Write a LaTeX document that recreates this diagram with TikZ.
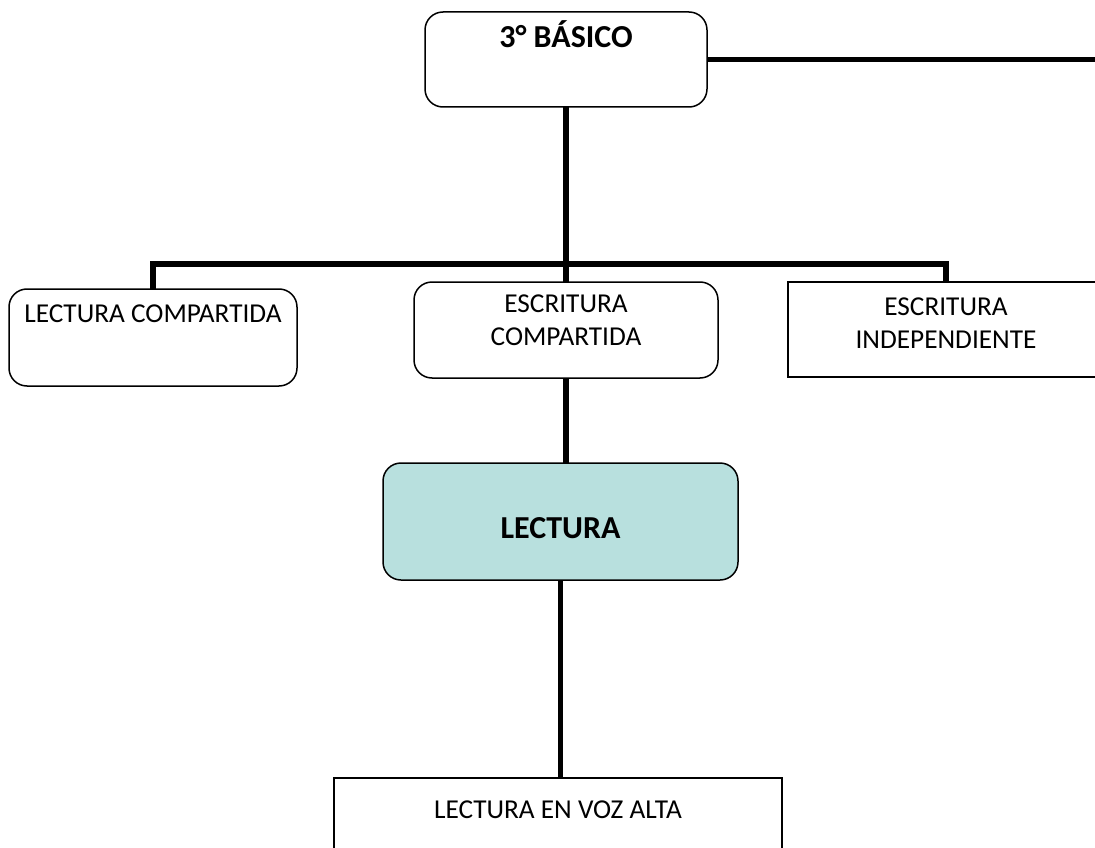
\documentclass[tikz,border=0pt]{standalone}
\usepackage{fontspec}
\setmainfont{Carlito}
\usepackage{tikz}
\usetikzlibrary{positioning}

\definecolor{lectfill}{RGB}{184,224,222}

\tikzset{
  box/.style={draw, line width=1.5pt, rounded corners=18pt, inner sep=0pt, outer sep=0pt},
  sqbox/.style={draw, line width=1.5pt, inner sep=0pt, outer sep=0pt},
  lbl/.style={draw=none, fill=none, inner sep=0pt, align=center,
    font=\fontsize{27.3}{32.5}\selectfont},
  blbl/.style={lbl, font=\fontsize{32}{38}\selectfont\bfseries},
  conn/.style={line width=5.8pt}
}

\begin{document}
\begin{tikzpicture}[x=1pt, y=-1pt]

    \clip (0,0) rectangle (1095,848);

    % boxes
    \node[box, minimum width=282pt, minimum height=95pt,
      label={[blbl, anchor=base, yshift=-36pt]north:3° BÁSICO}] (basico) at (566,59.5) {};
    \node[box, minimum width=288pt, minimum height=97pt,
      label={[lbl, anchor=base, yshift=-33pt]north:LECTURA COMPARTIDA}] (lectcomp) at (153,337.5) {};
    \node[box, minimum width=304pt, minimum height=96pt,
      label={[lbl, anchor=base, yshift=-63pt]north:ESCRITURA\\COMPARTIDA}] (escomp) at (566,330) {};
    \node[sqbox, minimum width=316pt, minimum height=95pt,
      label={[lbl, anchor=base, yshift=-66pt]north:ESCRITURA\\INDEPENDIENTE}] (esindep) at (946,329.5) {};
    \node[box, fill=lectfill, minimum width=355pt, minimum height=117pt,
      label={[blbl, anchor=base, yshift=-75pt]north:LECTURA}] (lect) at (560.5,521.5) {};
    \node[sqbox, minimum width=448pt, minimum height=120pt,
      label={[lbl, anchor=base, yshift=-40pt]north:LECTURA EN VOZ ALTA}] (voz) at (558,838) {};

    \coordinate (bar) at (566,264);
    \coordinate (edge) at (1100,59.5);

    % connectors
    \draw[conn] (basico.south) -- (escomp.north);
    \draw[conn] (lectcomp.north) |- (bar) -| (esindep.north);
    \draw[conn] (basico.east) -- (edge);
    \draw[conn] (escomp.south) -- (escomp.south |- lect.north);
    \draw[conn] (lect.south) -- (lect.south |- voz.north);

\end{tikzpicture}
\end{document}
